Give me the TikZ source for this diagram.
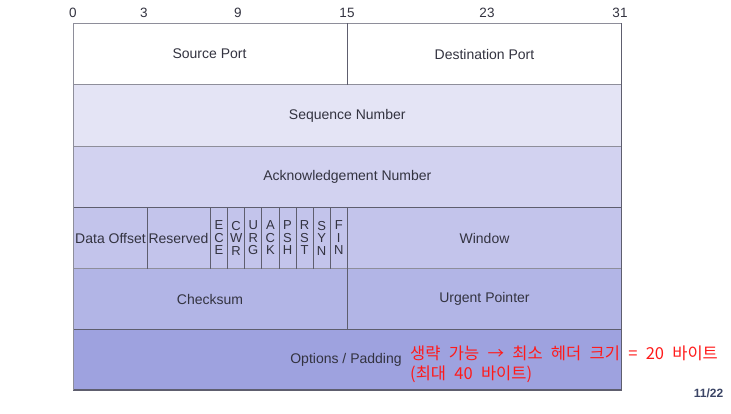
\documentclass[tikz,border=0pt]{standalone}
\usepackage{fontspec}
\setmainfont{Liberation Sans}
\newfontfamily\kr{Noto Sans CJK KR}

\definecolor{RowB}{HTML}{E4E4F5}
\definecolor{RowC}{HTML}{D2D2F0}
\definecolor{RowD}{HTML}{C3C4EB}
\definecolor{RowE}{HTML}{B2B5E6}
\definecolor{RowF}{HTML}{9EA2DF}
\definecolor{Grid}{HTML}{8E8E9A}
\definecolor{GridDark}{HTML}{5E5E6E}
\definecolor{Label}{HTML}{333340}
\definecolor{Note}{HTML}{FF1A1A}
\definecolor{Page}{HTML}{3B4566}

\newcommand{\notefont}{\kr\fontsize{16.5}{20}\selectfont\spaceskip=8.3pt\relax}

\tikzset{
  field/.style={text=Label, font=\fontsize{14}{16}\selectfont, inner sep=0pt},
  flag/.style={text=Label, font=\fontsize{13}{12.5}\selectfont, align=center, inner sep=0pt},
  bit/.style={text=Label, font=\fontsize{13.5}{15}\selectfont, inner sep=0pt},
  note/.style={text=Note, font=\notefont, anchor=base west, inner sep=0pt},
}

\begin{document}
\begin{tikzpicture}[x=1pt, y=-1pt]
  \useasboundingbox (0,0) rectangle (731,413);

  %%%%%%%%%% Points pour travailler %%%%%%%%%%
  \coordinate (L0) at (73,23);
  \coordinate (L1) at (73,84.5);
  \coordinate (L2) at (73,146);
  \coordinate (L3) at (73,207);
  \coordinate (L4) at (73,268.5);
  \coordinate (L5) at (73,329.5);
  \coordinate (L6) at (73,390);
  \coordinate (R0) at (621.5,23);
  \coordinate (R1) at (621.5,84.5);
  \coordinate (R2) at (621.5,146);
  \coordinate (R3) at (621.5,207);
  \coordinate (R4) at (621.5,268.5);
  \coordinate (R5) at (621.5,329.5);
  \coordinate (R6) at (621.5,390);

  %%%%%%%%%% Row colors %%%%%%%%%%
  \fill [color=white] (L0) rectangle (R1) ;
  \fill [color=RowB] (L1) rectangle (R2) ;
  \fill [color=RowC] (L2) rectangle (R3) ;
  \fill [color=RowD] (L3) rectangle (R4) ;
  \fill [color=RowE] (L4) rectangle (R5) ;
  \fill [color=RowF] (L5) rectangle (R6) ;

  %%%%%%%%%% Row borders %%%%%%%%%%
  \draw [line width=0.8, color=Grid] (L0) -- (R0) ;
  \draw [line width=0.8, color=Grid] (L1) -- (R1) ;
  \draw [line width=0.8, color=Grid] (L2) -- (R2) ;
  \draw [line width=1, color=GridDark] (L3) -- (R3) ;
  \draw [line width=0.8, color=Grid] (L4) -- (R4) ;
  \draw [line width=1, color=GridDark] (L5) -- (R5) ;
  \draw [line width=1.2, color=GridDark] (L6) -- (R6) ;
  \draw [line width=0.8, color=Grid] (L0) -- (L6) ;
  \draw [line width=1.2, color=GridDark] (R0) -- (R6) ;

  %%%%%%%%%% Field borders %%%%%%%%%%
  \draw [line width=0.8, color=GridDark] (347.3,23) -- (347.3,84.5) ;
  \draw [line width=0.8, color=GridDark] (347.3,207) -- (347.3,329.5) ;
  \draw [line width=0.8, color=GridDark] (147.3,207) -- (147.3,268.5) ;
  \foreach \i in {0,...,7}
  {
    \draw [line width=0.8, color=GridDark] (210.5+\i*17.1,207) -- (210.5+\i*17.1,268.5) ;
  }

  %%%%%%%%%% Bit numbers %%%%%%%%%%
  \foreach \b/\x in {0/73, 3/144, 9/238, 15/347, 23/487, 31/620}
  {
    \node [bit] (bit\b) at (\x,13) {\b};
  }

  %%%%%%%%%% Field names %%%%%%%%%%
  \node [field] (srcport) at (209.5,54) {Source Port};
  \node [field] (dstport) at (484.5,54) {Destination Port};
  \node [field] (seqnum) at (347.3,115.5) {Sequence Number};
  \node [field] (acknum) at (347.3,176.5) {Acknowledgement Number};
  \node [field] (offset) at (110.5,238) {Data Offset};
  \node [field] (reserved) at (178.5,238) {Reserved};
  \node [field] (window) at (484.5,238) {Window};
  \node [field] (checksum) at (210,299) {Checksum};
  \node [field] (urgent) at (484.5,299) {Urgent Pointer};
  \node [field] (options) at (346,359.5) {Options / Padding};

  %%%%%%%%%% Flags %%%%%%%%%%
  \foreach \a/\b/\c [count=\i from 0] in {E/C/E, C/W/R, U/R/G, A/C/K, P/S/H, R/S/T, S/Y/N, F/I/N}
  {
    \node [flag] (flag\i) at (210.5+\i*17.1+8.55,238) {\a\\\b\\\c};
  }

  %%%%%%%%%% Note %%%%%%%%%%
  \node [note] (note1) at (410,359) {생략 가능 → 최소 헤더 크기 = 20 바이트};
  \node [note] (note2) at (410,379) {(최대 40 바이트)};
  \node [text=Page, font=\bfseries\fontsize{12}{14}\selectfont, inner sep=0pt] (pagenum) at (708.5,393) {11/22};

\end{tikzpicture}
\end{document}
